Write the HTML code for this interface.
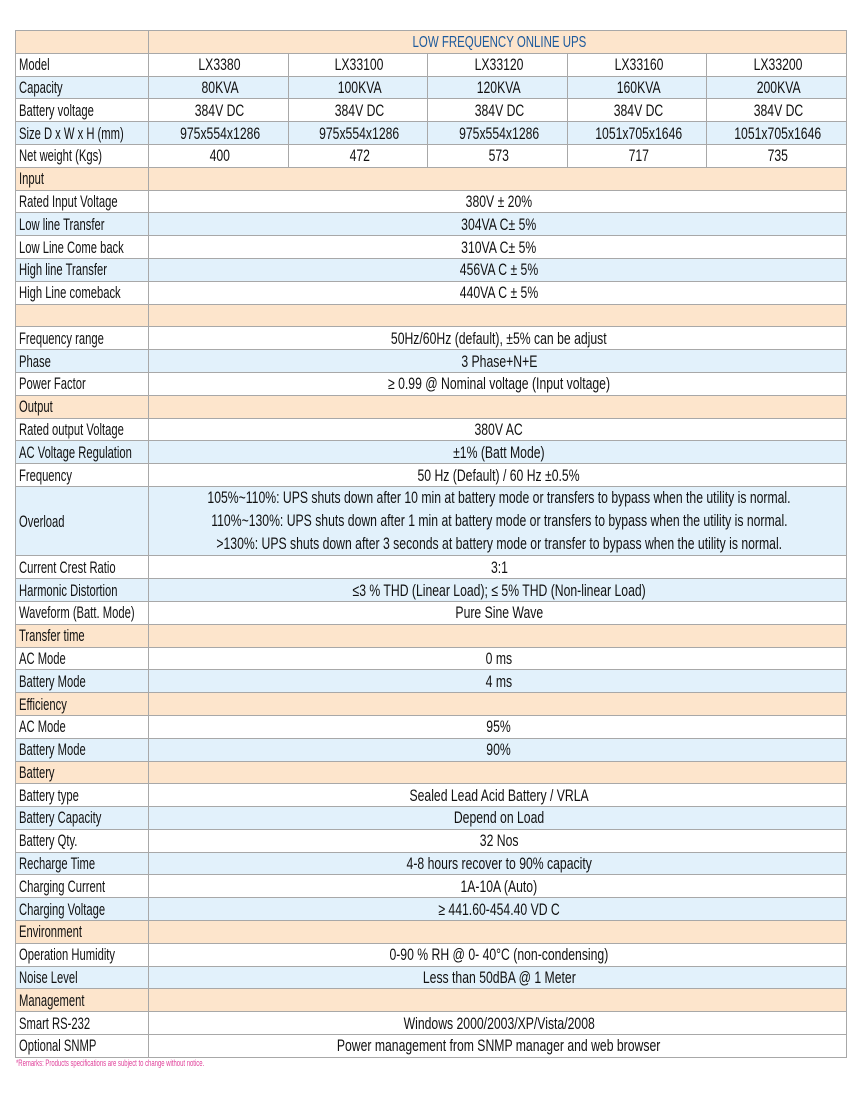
<!DOCTYPE html>
<html><head><meta charset="utf-8"><style>
body{margin:0;width:862px;height:1095px;background:#fff;position:relative;font-family:"Liberation Sans",sans-serif;font-size:16.5px;color:#111;}
table{position:absolute;left:15px;top:30px;width:832px;border-collapse:collapse;table-layout:fixed;}
td{border:1px solid #a8a8a8;height:21.8px;padding:0 0 0 3px;line-height:15px;text-align:center;white-space:nowrap;padding-top:2px;box-sizing:border-box}
td span{display:inline-block;transform:scaleX(.74);transform-origin:center;margin:0 -200px}
td:first-child span{transform-origin:left;margin:0;transform:scaleX(.68)}
td:first-child{text-align:left;}
tr.p td{background:#fde5cc;}
tr.b td{background:#e2f1fb;}
tr.h td{color:#1d5a9c;font-size:15.5px;}
.note{position:absolute;left:16px;top:1058px;font-size:9px;color:#e0409a;transform:scaleX(.66);transform-origin:left;}
</style></head><body>
<table>
<colgroup><col style="width:133px"><col><col><col><col><col></colgroup>
<tr class="p h" style="height:22.8px"><td></td><td colspan="5"><span>LOW FREQUENCY ONLINE UPS</span></td></tr>
<tr style="height:22.8px"><td><span>Model</span></td><td><span>LX3380</span></td><td><span>LX33100</span></td><td><span>LX33120</span></td><td><span>LX33160</span></td><td><span>LX33200</span></td></tr>
<tr class="b" style="height:22.8px"><td><span>Capacity</span></td><td><span>80KVA</span></td><td><span>100KVA</span></td><td><span>120KVA</span></td><td><span>160KVA</span></td><td><span>200KVA</span></td></tr>
<tr style="height:22.8px"><td><span>Battery voltage</span></td><td><span>384V DC</span></td><td><span>384V DC</span></td><td><span>384V DC</span></td><td><span>384V DC</span></td><td><span>384V DC</span></td></tr>
<tr class="b" style="height:22.8px"><td><span>Size D x W x H (mm)</span></td><td><span>975x554x1286</span></td><td><span>975x554x1286</span></td><td><span>975x554x1286</span></td><td><span>1051x705x1646</span></td><td><span>1051x705x1646</span></td></tr>
<tr style="height:22.8px"><td><span>Net weight (Kgs)</span></td><td><span>400</span></td><td><span>472</span></td><td><span>573</span></td><td><span>717</span></td><td><span>735</span></td></tr>
<tr class="p" style="height:22.8px"><td><span>Input</span></td><td colspan="5"></td></tr>
<tr style="height:22.8px"><td><span>Rated Input Voltage</span></td><td colspan="5"><span>380V ± 20%</span></td></tr>
<tr class="b" style="height:22.8px"><td><span>Low line Transfer</span></td><td colspan="5"><span>304VA C± 5%</span></td></tr>
<tr style="height:22.8px"><td><span>Low Line Come back</span></td><td colspan="5"><span>310VA C± 5%</span></td></tr>
<tr class="b" style="height:22.8px"><td><span>High line Transfer</span></td><td colspan="5"><span>456VA C ± 5%</span></td></tr>
<tr style="height:22.8px"><td><span>High Line comeback</span></td><td colspan="5"><span>440VA C ± 5%</span></td></tr>
<tr class="p" style="height:22.8px"><td></td><td colspan="5"></td></tr>
<tr style="height:22.8px"><td><span>Frequency range</span></td><td colspan="5"><span>50Hz/60Hz (default), ±5% can be adjust</span></td></tr>
<tr class="b" style="height:22.8px"><td><span>Phase</span></td><td colspan="5"><span>3 Phase+N+E</span></td></tr>
<tr style="height:22.8px"><td><span>Power Factor</span></td><td colspan="5"><span>≥ 0.99 @ Nominal voltage (Input voltage)</span></td></tr>
<tr class="p" style="height:22.8px"><td><span>Output</span></td><td colspan="5"></td></tr>
<tr style="height:22.8px"><td><span>Rated output Voltage</span></td><td colspan="5"><span>380V AC</span></td></tr>
<tr class="b" style="height:22.8px"><td><span>AC Voltage Regulation</span></td><td colspan="5"><span>±1% (Batt Mode)</span></td></tr>
<tr style="height:22.8px"><td><span>Frequency</span></td><td colspan="5"><span>50 Hz (Default) / 60 Hz ±0.5%</span></td></tr>
<tr class="b" style="height:68.4px"><td><span>Overload</span></td><td colspan="5" style="line-height:22.8px;padding-top:0"><span>105%~110%: UPS shuts down after 10 min at battery mode or transfers to bypass when the utility is normal.</span><br><span>110%~130%: UPS shuts down after 1 min at battery mode or transfers to bypass when the utility is normal.</span><br><span>&gt;130%: UPS shuts down after 3 seconds at battery mode or transfer to bypass when the utility is normal.</span></td></tr>
<tr style="height:22.8px"><td><span>Current Crest Ratio</span></td><td colspan="5"><span>3:1</span></td></tr>
<tr class="b" style="height:22.8px"><td><span>Harmonic Distortion</span></td><td colspan="5"><span>≤3 % THD (Linear Load); ≤ 5% THD (Non-linear Load)</span></td></tr>
<tr style="height:22.8px"><td><span>Waveform (Batt. Mode)</span></td><td colspan="5"><span>Pure Sine Wave</span></td></tr>
<tr class="p" style="height:22.8px"><td><span>Transfer time</span></td><td colspan="5"></td></tr>
<tr style="height:22.8px"><td><span>AC Mode</span></td><td colspan="5"><span>0 ms</span></td></tr>
<tr class="b" style="height:22.8px"><td><span>Battery Mode</span></td><td colspan="5"><span>4 ms</span></td></tr>
<tr class="p" style="height:22.8px"><td><span>Efficiency</span></td><td colspan="5"></td></tr>
<tr style="height:22.8px"><td><span>AC Mode</span></td><td colspan="5"><span>95%</span></td></tr>
<tr class="b" style="height:22.8px"><td><span>Battery Mode</span></td><td colspan="5"><span>90%</span></td></tr>
<tr class="p" style="height:22.8px"><td><span>Battery</span></td><td colspan="5"></td></tr>
<tr style="height:22.8px"><td><span>Battery type</span></td><td colspan="5"><span>Sealed Lead Acid Battery / VRLA</span></td></tr>
<tr class="b" style="height:22.8px"><td><span>Battery Capacity</span></td><td colspan="5"><span>Depend on Load</span></td></tr>
<tr style="height:22.8px"><td><span>Battery Qty.</span></td><td colspan="5"><span>32 Nos</span></td></tr>
<tr class="b" style="height:22.8px"><td><span>Recharge Time</span></td><td colspan="5"><span>4-8 hours recover to 90% capacity</span></td></tr>
<tr style="height:22.8px"><td><span>Charging Current</span></td><td colspan="5"><span>1A-10A (Auto)</span></td></tr>
<tr class="b" style="height:22.8px"><td><span>Charging Voltage</span></td><td colspan="5"><span>≥ 441.60-454.40 VD C</span></td></tr>
<tr class="p" style="height:22.8px"><td><span>Environment</span></td><td colspan="5"></td></tr>
<tr style="height:22.8px"><td><span>Operation Humidity</span></td><td colspan="5"><span>0-90 % RH @ 0- 40°C (non-condensing)</span></td></tr>
<tr class="b" style="height:22.8px"><td><span>Noise Level</span></td><td colspan="5"><span>Less than 50dBA @ 1 Meter</span></td></tr>
<tr class="p" style="height:22.8px"><td><span>Management</span></td><td colspan="5"></td></tr>
<tr style="height:22.8px"><td><span>Smart RS-232</span></td><td colspan="5"><span>Windows 2000/2003/XP/Vista/2008</span></td></tr>
<tr style="height:22.8px"><td><span>Optional SNMP</span></td><td colspan="5"><span>Power management from SNMP manager and web browser</span></td></tr>
</table>
<div class="note">*Remarks: Products specifications are subject to change without notice.</div>
</body></html>
